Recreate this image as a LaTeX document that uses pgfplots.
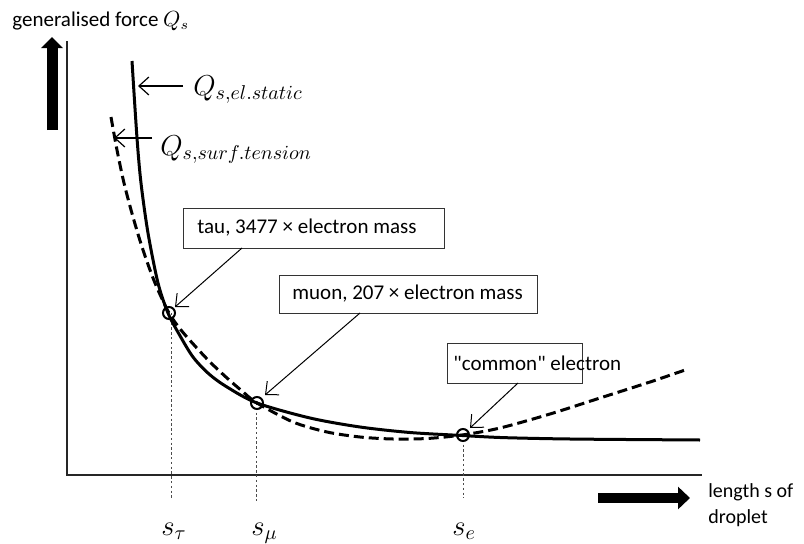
\documentclass[border=0pt]{standalone}
\usepackage{fontspec}
\setmainfont{Carlito}[Ligatures=TeXOff]
\usepackage{pgfplots}
\pgfplotsset{compat=1.18}
\usetikzlibrary{arrows.meta}
\begin{document}
\begin{tikzpicture}
\begin{axis}[x=0.5pt, y=0.5pt, y dir=reverse,
  xmin=0, xmax=804, ymin=0, ymax=543,
  hide axis, clip=false, scale only axis]
\path (axis cs:0,0) rectangle (axis cs:804,543);
% axes
\draw[line width=1pt, black!85] (axis cs:67,41) -- (axis cs:67,475) -- (axis cs:702,475);
% big arrows
\draw[line width=5.5pt, -{Triangle[length=5.5pt,width=10.5pt]}] (axis cs:52,130) -- (axis cs:52,37);
\draw[line width=5pt, -{Triangle[length=6pt,width=11pt]}] (axis cs:598,498) -- (axis cs:690,498);
% dotted guides
\addplot[black!70, line width=0.4pt, dash pattern=on 1.2pt off 1.2pt] coordinates {(171,313) (171,498)};
\addplot[black!70, line width=0.4pt, dash pattern=on 1.2pt off 1.2pt] coordinates {(256,403) (256,501)};
\addplot[black!70, line width=0.4pt, dash pattern=on 1.2pt off 1.2pt] coordinates {(463,435) (463,498)};
% solid curve: electrostatic
\addplot[black, line width=1.5pt, smooth] coordinates {
(132,61) (137,138) (141,183) (148,233) (158,283) (168,313) (179,334) (193,357) (209,374) (227,387) (257,403)
(310,418) (360,427) (410,432.5) (462,435.5) (500,437.5) (550,438.7) (600,439.3) (700,440)};
% dashed curve: surface tension
\addplot[black, line width=1.5pt, dash pattern=on 5pt off 2.5pt, smooth] coordinates {
(111,117) (117,150) (124,183) (133,217) (143,250) (155,283) (169,313) (181,330) (195,346) (210,362) (227,378) (242,391) (257,403)
(293,422) (327,432) (360,437) (393,439) (427,438.5) (462,435) (500,428) (550,414) (600,398) (650,382) (688,369)};
% circles
\addplot[only marks, mark=o, mark size=3pt, line width=1pt, black] coordinates {(169,313) (257,403) (463,435)};
% boxes
\draw[line width=0.5pt, black!80, fill=white] (axis cs:183,208) rectangle (axis cs:444,248);
\node[anchor=west, inner sep=0pt] at (axis cs:197,228) {\fontsize{10.5}{12}\selectfont tau, 3477 × electron mass};
\draw[line width=0.5pt, black!80, fill=white] (axis cs:279,275) rectangle (axis cs:537,313);
\node[anchor=west, inner sep=0pt] at (axis cs:292,294) {\fontsize{10.5}{12}\selectfont muon, 207 × electron mass};
\draw[line width=0.5pt, black!80, fill=white] (axis cs:447,343) rectangle (axis cs:582,383);
\node[anchor=west, inner sep=0pt] at (axis cs:453,363) {\fontsize{10.5}{12}\selectfont "common" electron};
% pointer arrows
\draw[line width=0.5pt, -{Straight Barb[length=5pt,width=9pt]}] (axis cs:242,248) -- (axis cs:175,307);
\draw[line width=0.5pt, -{Straight Barb[length=5pt,width=9pt]}] (axis cs:360,313) -- (axis cs:265,395);
\draw[line width=0.5pt, -{Straight Barb[length=5pt,width=9pt]}] (axis cs:518,383) -- (axis cs:470,428);
\draw[line width=0.6pt, -{Straight Barb[length=5pt,width=9pt]}] (axis cs:183,86) -- (axis cs:138,86);
\draw[line width=0.6pt, -{Straight Barb[length=5pt,width=9pt]}] (axis cs:152,138) -- (axis cs:114,138);
% curve labels
\node[anchor=base west, inner sep=0pt] at (axis cs:193,95) {\fontsize{14.5}{16}\selectfont $Q_{s,el.static}$};
\node[anchor=base west, inner sep=0pt] at (axis cs:160,155) {\fontsize{14.5}{16}\selectfont $Q_{s,surf.tension}$};
% axis titles
\node[anchor=base west, inner sep=0pt] at (axis cs:12,26) {\fontsize{10.5}{12}\selectfont generalised force $Q_s$};
\node[anchor=base west, inner sep=0pt] at (axis cs:708,497) {\fontsize{10}{12}\selectfont length s of};
\node[anchor=base west, inner sep=0pt] at (axis cs:708,523) {\fontsize{10}{12}\selectfont droplet};
% s labels
\node[anchor=base west, inner sep=0pt] at (axis cs:161,535) {\fontsize{14}{16}\selectfont $s_\tau$};
\node[anchor=base west, inner sep=0pt] at (axis cs:251,535) {\fontsize{14}{16}\selectfont $s_\mu$};
\node[anchor=base west, inner sep=0pt] at (axis cs:452,535) {\fontsize{14}{16}\selectfont $s_e$};
\end{axis}
\end{tikzpicture}
\end{document}
